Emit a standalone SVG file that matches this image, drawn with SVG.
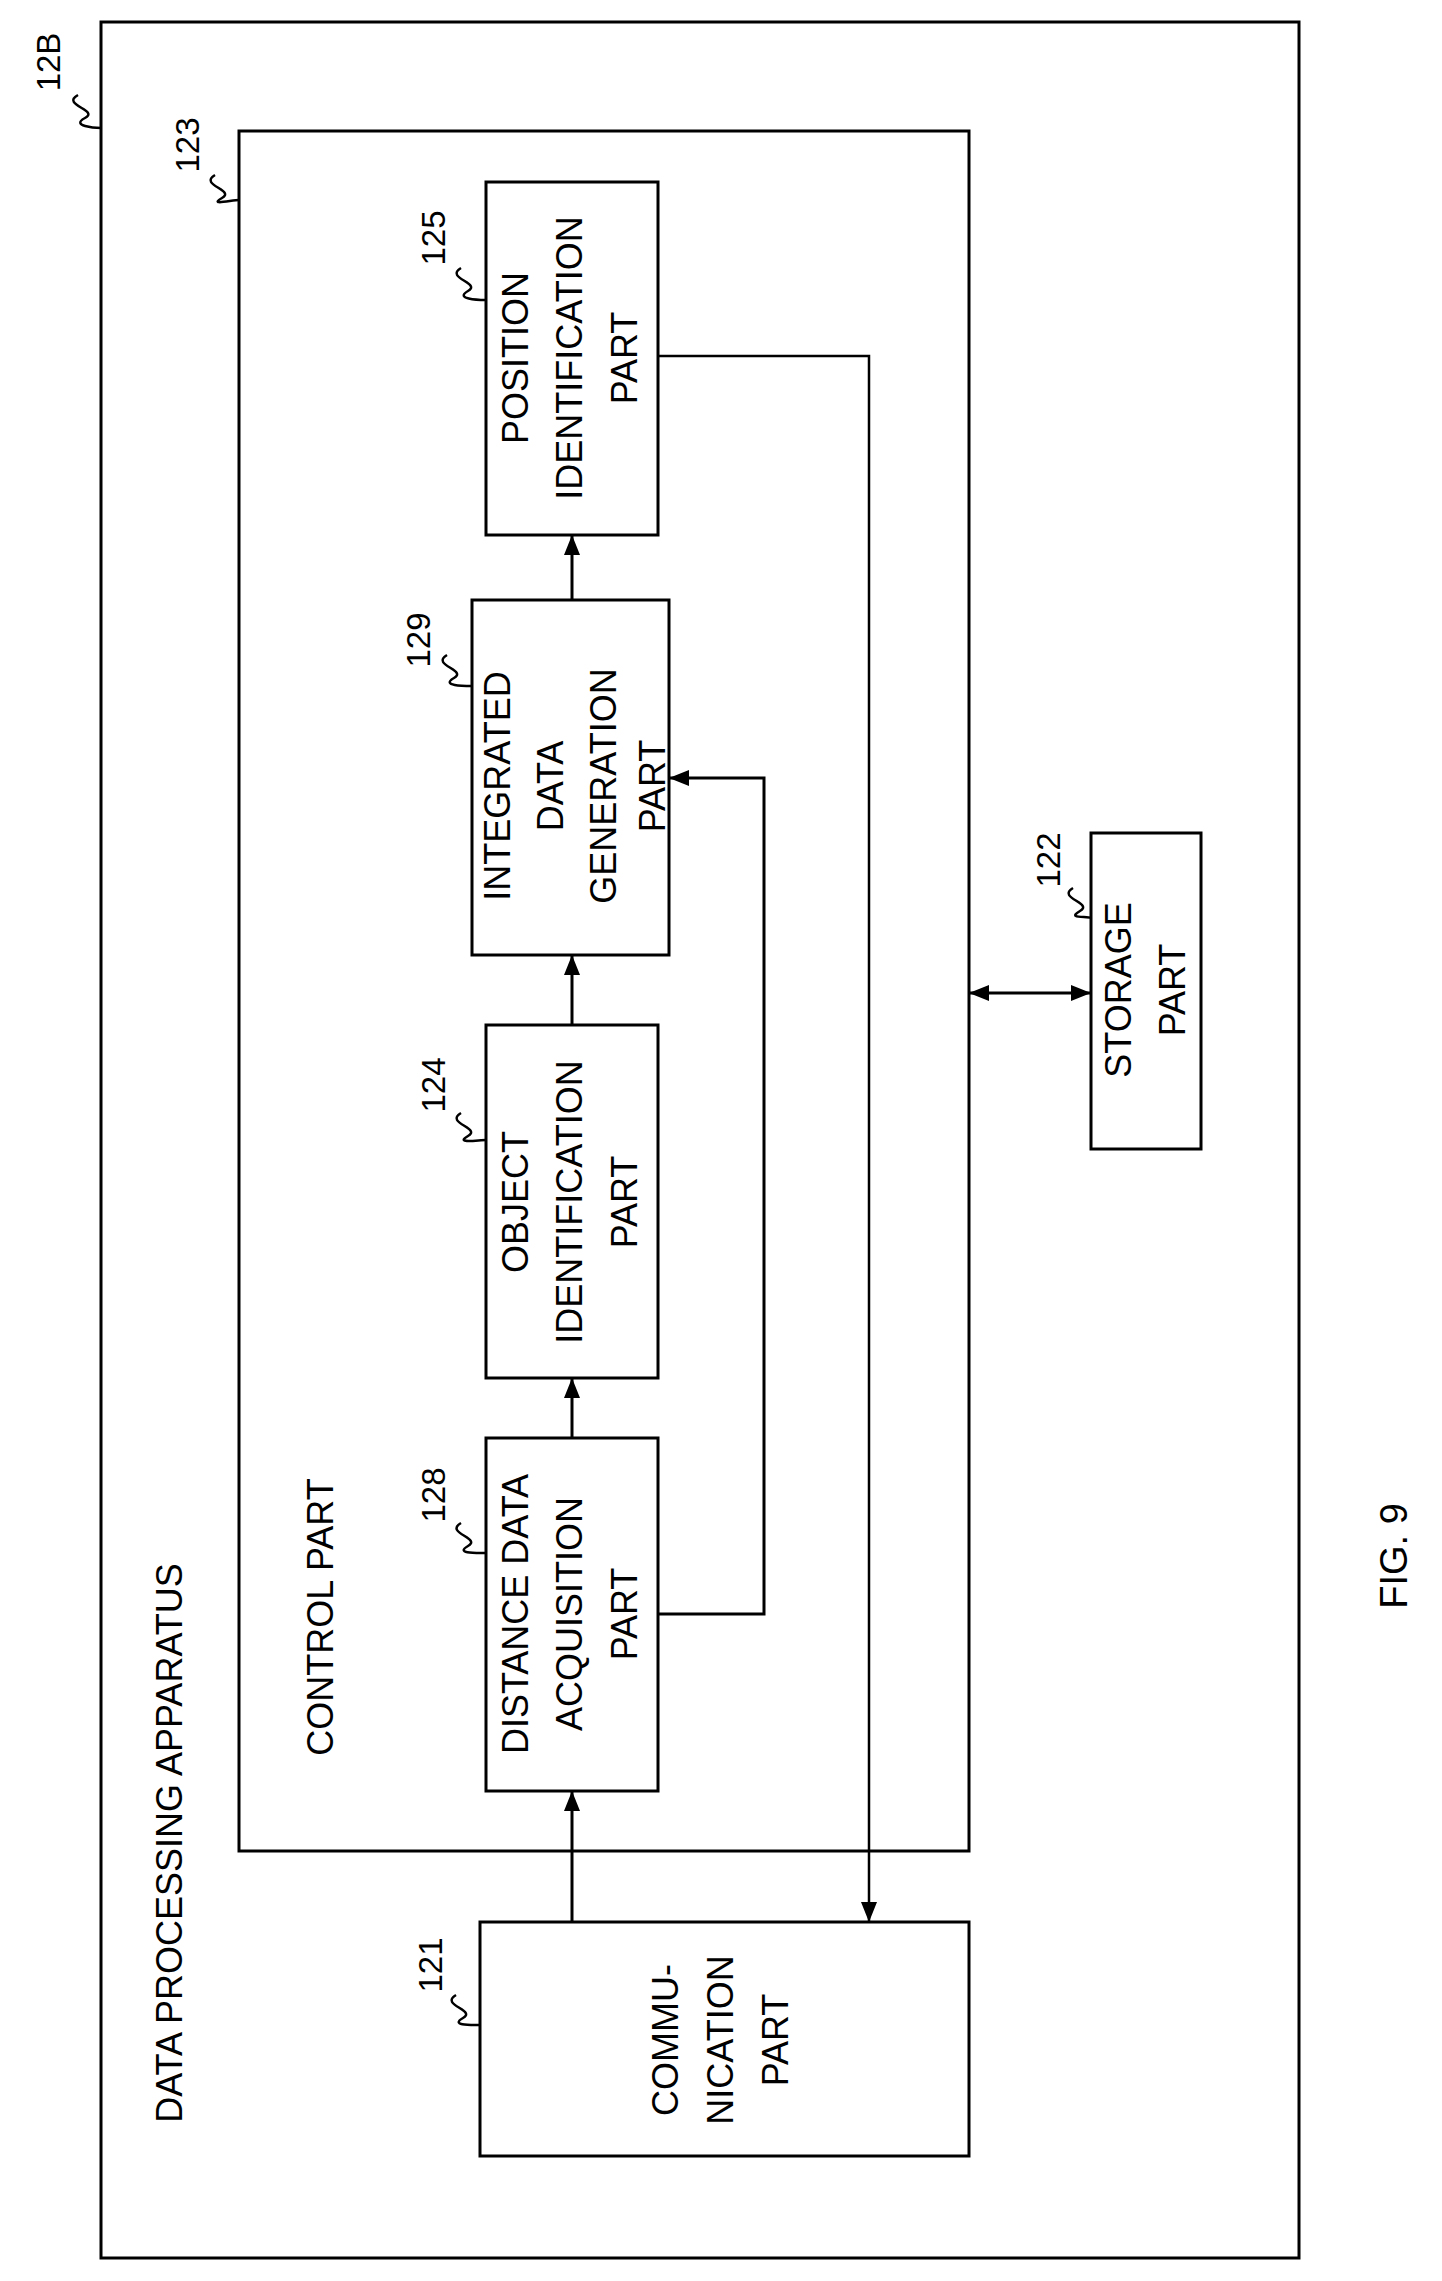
<svg xmlns="http://www.w3.org/2000/svg" width="1442" height="2281" viewBox="0 0 1442 2281">
<style>
rect{fill:none;stroke:#000;stroke-width:3}
.c{fill:none;stroke:#000;stroke-width:3}
.t{font-family:"Liberation Sans",Arial,sans-serif;font-size:36px;text-anchor:middle;dominant-baseline:central;fill:#000}
.n{font-family:"Liberation Sans",Arial,sans-serif;font-size:33px;text-anchor:middle;dominant-baseline:central;fill:#000}
.w{fill:none;stroke:#000;stroke-width:2.5}
</style>
<defs>
<marker id="b" viewBox="0 0 20 16" refX="20" refY="8" markerWidth="20" markerHeight="16" markerUnits="userSpaceOnUse" orient="auto-start-reverse"><path d="M0,0L20,8L0,16z" fill="#000"/></marker></defs>
<g id="apparatus"><rect x="101" y="22" width="1198" height="2236"/>
<text class="t" transform="rotate(-90 169 1843)" x="169" y="1843">DATA PROCESSING APPARATUS</text>
<text class="n" transform="rotate(-90 48 62)" x="48" y="62">12B</text>
<path class="w" d="M78,95 C60,105 100,110 85,118 S95,128 101,128"/></g>
<g id="control"><rect x="239" y="131" width="730" height="1720"/>
<text class="t" transform="rotate(-90 320 1617)" x="320" y="1617">CONTROL PART</text>
<text class="n" transform="rotate(-90 187 145)" x="187" y="145">123</text>
<path class="w" d="M215,175 C198,185 236,190 222,198 S232,200 239,200"/></g>
<g id="n125"><rect x="486" y="182" width="172" height="353"/>
<text class="t" transform="rotate(-90 515 358)" x="515" y="358">POSITION</text>
<text class="t" transform="rotate(-90 569 358)" x="569" y="358">IDENTIFICATION</text>
<text class="t" transform="rotate(-90 624 358)" x="624" y="358">PART</text>
<text class="n" transform="rotate(-90 433 238)" x="433" y="238">125</text>
<path class="w" d="M461,268 C444,278 482,283 468,291 S478,300 486,300"/></g>
<g id="n129"><rect x="472" y="600" width="197" height="355"/>
<text class="t" transform="rotate(-90 497 786)" x="497" y="786">INTEGRATED</text>
<text class="t" transform="rotate(-90 550 786)" x="550" y="786">DATA</text>
<text class="t" transform="rotate(-90 603 786)" x="603" y="786">GENERATION</text>
<text class="t" transform="rotate(-90 652 786)" x="652" y="786">PART</text>
<text class="n" transform="rotate(-90 418 640)" x="418" y="640">129</text>
<path class="w" d="M447,655 C430,665 468,670 454,678 S464,686 472,686"/></g>
<g id="n124"><rect x="486" y="1025" width="172" height="353"/>
<text class="t" transform="rotate(-90 515 1202)" x="515" y="1202">OBJECT</text>
<text class="t" transform="rotate(-90 569 1202)" x="569" y="1202">IDENTIFICATION</text>
<text class="t" transform="rotate(-90 624 1202)" x="624" y="1202">PART</text>
<text class="n" transform="rotate(-90 433 1085)" x="433" y="1085">124</text>
<path class="w" d="M461,1113 C444,1123 482,1128 468,1136 S478,1140 486,1140"/></g>
<g id="n128"><rect x="486" y="1438" width="172" height="353"/>
<text class="t" transform="rotate(-90 515 1614)" x="515" y="1614">DISTANCE DATA</text>
<text class="t" transform="rotate(-90 569 1614)" x="569" y="1614">ACQUISITION</text>
<text class="t" transform="rotate(-90 624 1614)" x="624" y="1614">PART</text>
<text class="n" transform="rotate(-90 433 1495)" x="433" y="1495">128</text>
<path class="w" d="M461,1523 C444,1533 482,1538 468,1546 S478,1553 486,1553"/></g>
<g id="n121"><rect x="480" y="1922" width="489" height="234"/>
<text class="t" transform="rotate(-90 665 2040)" x="665" y="2040">COMMU-</text>
<text class="t" transform="rotate(-90 720 2040)" x="720" y="2040">NICATION</text>
<text class="t" transform="rotate(-90 775 2040)" x="775" y="2040">PART</text>
<text class="n" transform="rotate(-90 430 1965)" x="430" y="1965">121</text>
<path class="w" d="M456,1995 C439,2005 477,2010 463,2018 S473,2025 480,2025"/></g>
<g id="n122"><rect x="1091" y="833" width="110" height="316"/>
<text class="t" transform="rotate(-90 1118 990)" x="1118" y="990">STORAGE</text>
<text class="t" transform="rotate(-90 1172 990)" x="1172" y="990">PART</text>
<text class="n" transform="rotate(-90 1048 860)" x="1048" y="860">122</text>
<path class="w" d="M1073,888 C1056,898 1094,903 1080,911 S1087,916 1091,918"/></g>
<text class="t" transform="rotate(-90 1394 1556)" x="1394" y="1556" style="font-size:38px">FIG. 9</text>
<g id="connectors">
<path class="c" d="M572,600V535" marker-end="url(#b)"/>
<path class="c" d="M572,1025V955" marker-end="url(#b)"/>
<path class="c" d="M572,1438V1378" marker-end="url(#b)"/>
<path class="c" d="M572,1922V1791" marker-end="url(#b)"/>
<path class="c" d="M658,356H869V1922" marker-end="url(#b)" style="stroke-width:2.5"/>
<path class="c" d="M658,1614H764V778H669" marker-end="url(#b)"/>
<path class="c" d="M969,993H1091" marker-start="url(#b)" marker-end="url(#b)"/>
</g>
</svg>
